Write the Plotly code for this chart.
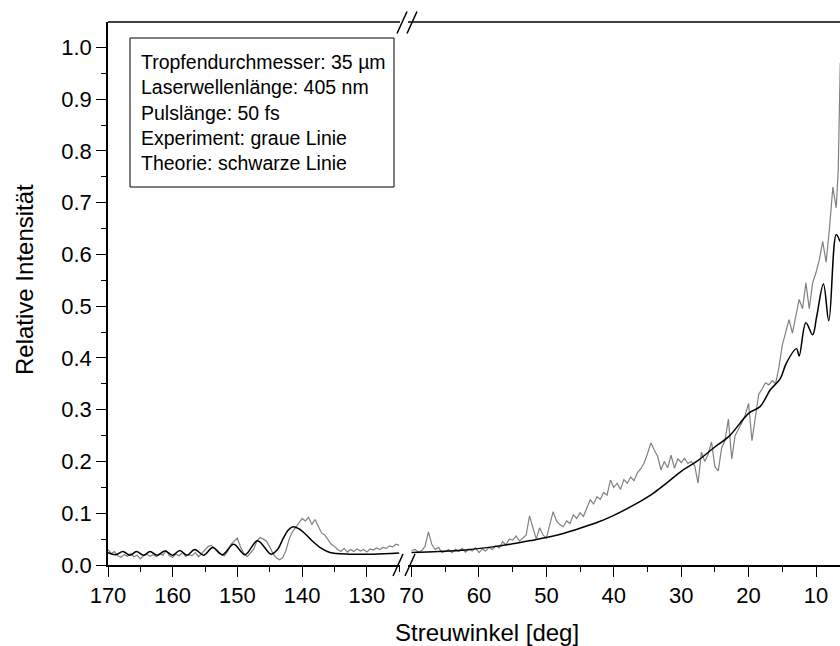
import plotly.graph_objects as go

# ---------------- data ----------------
# left segment (170 ... 125 deg)
exp_left_deg = [170 - 0.5 * i for i in range(91)]
exp_left_val = [0.030, 0.022, 0.026, 0.018, 0.015, 0.020, 0.017, 0.022, 0.016, 0.019,
                0.012, 0.018, 0.021, 0.017, 0.020, 0.016, 0.022, 0.019, 0.028, 0.018,
                0.015, 0.021, 0.018, 0.024, 0.017, 0.020, 0.018, 0.024, 0.016, 0.022,
                0.030, 0.036, 0.038, 0.030, 0.024, 0.020, 0.018, 0.026, 0.040, 0.046,
                0.052, 0.034, 0.022, 0.016, 0.022, 0.030, 0.046, 0.053, 0.050, 0.046,
                0.035, 0.022, 0.014, 0.010, 0.014, 0.028, 0.050, 0.064, 0.072, 0.080,
                0.090, 0.085, 0.092, 0.078, 0.088, 0.075, 0.062, 0.058, 0.048, 0.040,
                0.036, 0.030, 0.026, 0.032, 0.025, 0.030, 0.026, 0.031, 0.027, 0.030,
                0.025, 0.031, 0.029, 0.033, 0.030, 0.034, 0.032, 0.037, 0.035, 0.040,
                0.038]

theo_left_deg = [170, 168.8, 167.7, 166.6, 165.6, 164.5, 163.5, 162.4, 161.2, 160.0,
                 158.9, 157.8, 156.6, 155.2, 153.8, 152.3, 150.6, 148.8, 146.9, 144.8,
                 143.8, 142.9, 142.1, 141.4, 140.5, 139.5, 138.3, 137.0, 135.7, 132.6,
                 129.0, 125.0]
theo_left_val = [0.024, 0.020, 0.026, 0.019, 0.026, 0.019, 0.026, 0.019, 0.027, 0.019,
                 0.028, 0.019, 0.030, 0.019, 0.034, 0.020, 0.040, 0.020, 0.047, 0.021,
                 0.030, 0.052, 0.068, 0.074, 0.070, 0.060, 0.045, 0.032, 0.024, 0.021,
                 0.021, 0.023]

# right segment (70 ... 6.4 deg)
exp_right_deg = [70 - 0.5 * i for i in range(127)] + [6.7, 6.4]
exp_right_val = [0.028, 0.030, 0.025, 0.028, 0.036, 0.064, 0.040, 0.030, 0.034, 0.024,
                 0.026, 0.030, 0.024, 0.031, 0.026, 0.032, 0.025, 0.031, 0.027, 0.033,
                 0.024, 0.031, 0.027, 0.034, 0.030, 0.037, 0.033, 0.045, 0.039, 0.050,
                 0.048, 0.056, 0.046, 0.052, 0.058, 0.095, 0.070, 0.050, 0.072, 0.058,
                 0.052, 0.080, 0.103, 0.085, 0.078, 0.074, 0.085, 0.080, 0.097, 0.090,
                 0.101, 0.094, 0.112, 0.126, 0.118, 0.132, 0.127, 0.140, 0.135, 0.164,
                 0.150, 0.158, 0.146, 0.165, 0.158, 0.170, 0.163, 0.178, 0.186, 0.197,
                 0.215, 0.236, 0.222, 0.210, 0.184, 0.200, 0.188, 0.212, 0.187, 0.205,
                 0.198, 0.206, 0.196, 0.200, 0.192, 0.158, 0.218, 0.200, 0.214, 0.238,
                 0.190, 0.182, 0.226, 0.240, 0.282, 0.205, 0.250, 0.262, 0.275, 0.290,
                 0.312, 0.240, 0.282, 0.330, 0.340, 0.352, 0.348, 0.356, 0.350, 0.382,
                 0.425, 0.452, 0.474, 0.448, 0.480, 0.513, 0.495, 0.545, 0.495, 0.545,
                 0.565, 0.590, 0.625, 0.585, 0.650, 0.730, 0.690, 0.764, 0.970]

theo_right_deg = [70, 66, 62, 58, 55, 52, 50, 47.5, 45, 42.5, 40, 37, 34.1, 32, 30, 27.7,
                  25.2, 22.8, 20, 18.3, 16.8, 15.3, 14.4, 12.9, 12.5, 11.5, 10.5, 9.9,
                  8.9, 8.1, 7.0, 6.44]
theo_right_val = [0.024, 0.026, 0.029, 0.035, 0.041, 0.048, 0.053, 0.061, 0.071, 0.082,
                  0.096, 0.116, 0.139, 0.160, 0.181, 0.200, 0.226, 0.250, 0.293, 0.306,
                  0.338, 0.360, 0.390, 0.418, 0.404, 0.468, 0.445, 0.480, 0.543, 0.472,
                  0.638, 0.625]

left_ticks = [170, 160, 150, 140, 130]
right_ticks = [70, 60, 50, 40, 30, 20, 10]
y_ticks = [0.0, 0.1, 0.2, 0.3, 0.4, 0.5, 0.6, 0.7, 0.8, 0.9, 1.0]

info_lines = ["Tropfendurchmesser: 35 µm", "Laserwellenlänge: 405 nm", "Pulslänge: 50 fs",
              "Experiment: graue Linie", "Theorie: schwarze Linie"]

# ---------------- figure ----------------
FONT = "Arial, Liberation Sans, Helvetica, sans-serif"
TICK_FS = 22
TITLE_FS = 24
BOX_FS = 19.5
GRAY = "rgb(128,128,128)"
W, H = 840, 646
ML, MR, MT, MB = 108, 0, 22, 81
PW, PH = W - ML - MR, H - MT - MB


def px_x(p):
    return (p - ML) / PW


def px_y(p):
    return (H - MB - p) / PH


L_DOM = [0.0, px_x(400)]
R_DOM = [px_x(408), 1.0]

fig = go.Figure()
fig.add_trace(go.Scatter(x=exp_left_deg, y=exp_left_val, mode="lines",
                         line=dict(color=GRAY, width=1.2), xaxis="x", yaxis="y"))
fig.add_trace(go.Scatter(x=theo_left_deg, y=theo_left_val, mode="lines",
                         line=dict(color="black", width=1.5, shape="spline", smoothing=1.0),
                         xaxis="x", yaxis="y"))
fig.add_trace(go.Scatter(x=exp_right_deg, y=exp_right_val, mode="lines",
                         line=dict(color=GRAY, width=1.2), xaxis="x2", yaxis="y"))
fig.add_trace(go.Scatter(x=theo_right_deg, y=theo_right_val, mode="lines",
                         line=dict(color="black", width=1.5, shape="spline", smoothing=1.0),
                         xaxis="x2", yaxis="y"))

axis_common = dict(showgrid=False, zeroline=False, showline=True, linecolor="black",
                   linewidth=1.6, mirror=False, ticks="outside", ticklen=10, tickwidth=1.3,
                   tickcolor="black", tickfont=dict(family=FONT, size=TICK_FS, color="black"))
minor_common = dict(ticks="outside", ticklen=5, tickwidth=1.3, tickcolor="black")

fig.update_layout(
    width=W, height=H, margin=dict(l=ML, r=MR, t=MT, b=MB),
    paper_bgcolor="white", plot_bgcolor="white", showlegend=False,
    xaxis=dict(domain=L_DOM, range=[170, 124.87], tickvals=left_ticks, anchor="y",
               minor=dict(dtick=5, tick0=0, **minor_common), **axis_common),
    xaxis2=dict(domain=R_DOM, range=[70.53, 6.44], tickvals=right_ticks, anchor="y",
                minor=dict(dtick=5, tick0=0, **minor_common), **axis_common),
    yaxis=dict(domain=[0, 1], range=[0, 1.049], tickvals=y_ticks, tickformat=".1f",
               anchor="x", minor=dict(dtick=0.05, tick0=0, **minor_common), **axis_common),
)

# top frame lines (broken)
for x0, x1 in [(L_DOM[0], L_DOM[1]), (R_DOM[0], R_DOM[1])]:
    fig.add_shape(type="line", xref="paper", yref="paper", x0=x0, x1=x1, y0=1, y1=1,
                  line=dict(color="black", width=1.6))

# info box
fig.add_shape(type="rect", xref="paper", yref="paper",
              x0=px_x(130), x1=px_x(394), y0=px_y(187), y1=px_y(38),
              line=dict(color="black", width=1), fillcolor="white", layer="above")
fig.add_annotation(xref="paper", yref="paper", x=px_x(139), y=px_y(112),
                   xanchor="left", yanchor="middle", align="left", showarrow=False,
                   text="<br>".join(info_lines),
                   font=dict(family=FONT, size=BOX_FS, color="black"))

# axis titles
fig.add_annotation(xref="paper", yref="paper", x=px_x(487), y=px_y(632),
                   xanchor="center", yanchor="middle", showarrow=False,
                   text="Streuwinkel [deg]", font=dict(family=FONT, size=TITLE_FS, color="black"))
fig.add_annotation(xref="paper", yref="paper", x=px_x(24), y=px_y(280),
                   xanchor="center", yanchor="middle", showarrow=False, textangle=-90,
                   text="Relative Intensität", font=dict(family=FONT, size=TITLE_FS, color="black"))

# axis break marks
for cx, cy in [(398, 565), (410, 565), (402, 22.5), (412, 22.5)]:
    fig.add_shape(type="line", xref="paper", yref="paper",
                  x0=px_x(cx - 5), y0=px_y(cy + 11), x1=px_x(cx + 5), y1=px_y(cy - 11),
                  line=dict(color="black", width=1.5))

fig.write_html("out.html")
